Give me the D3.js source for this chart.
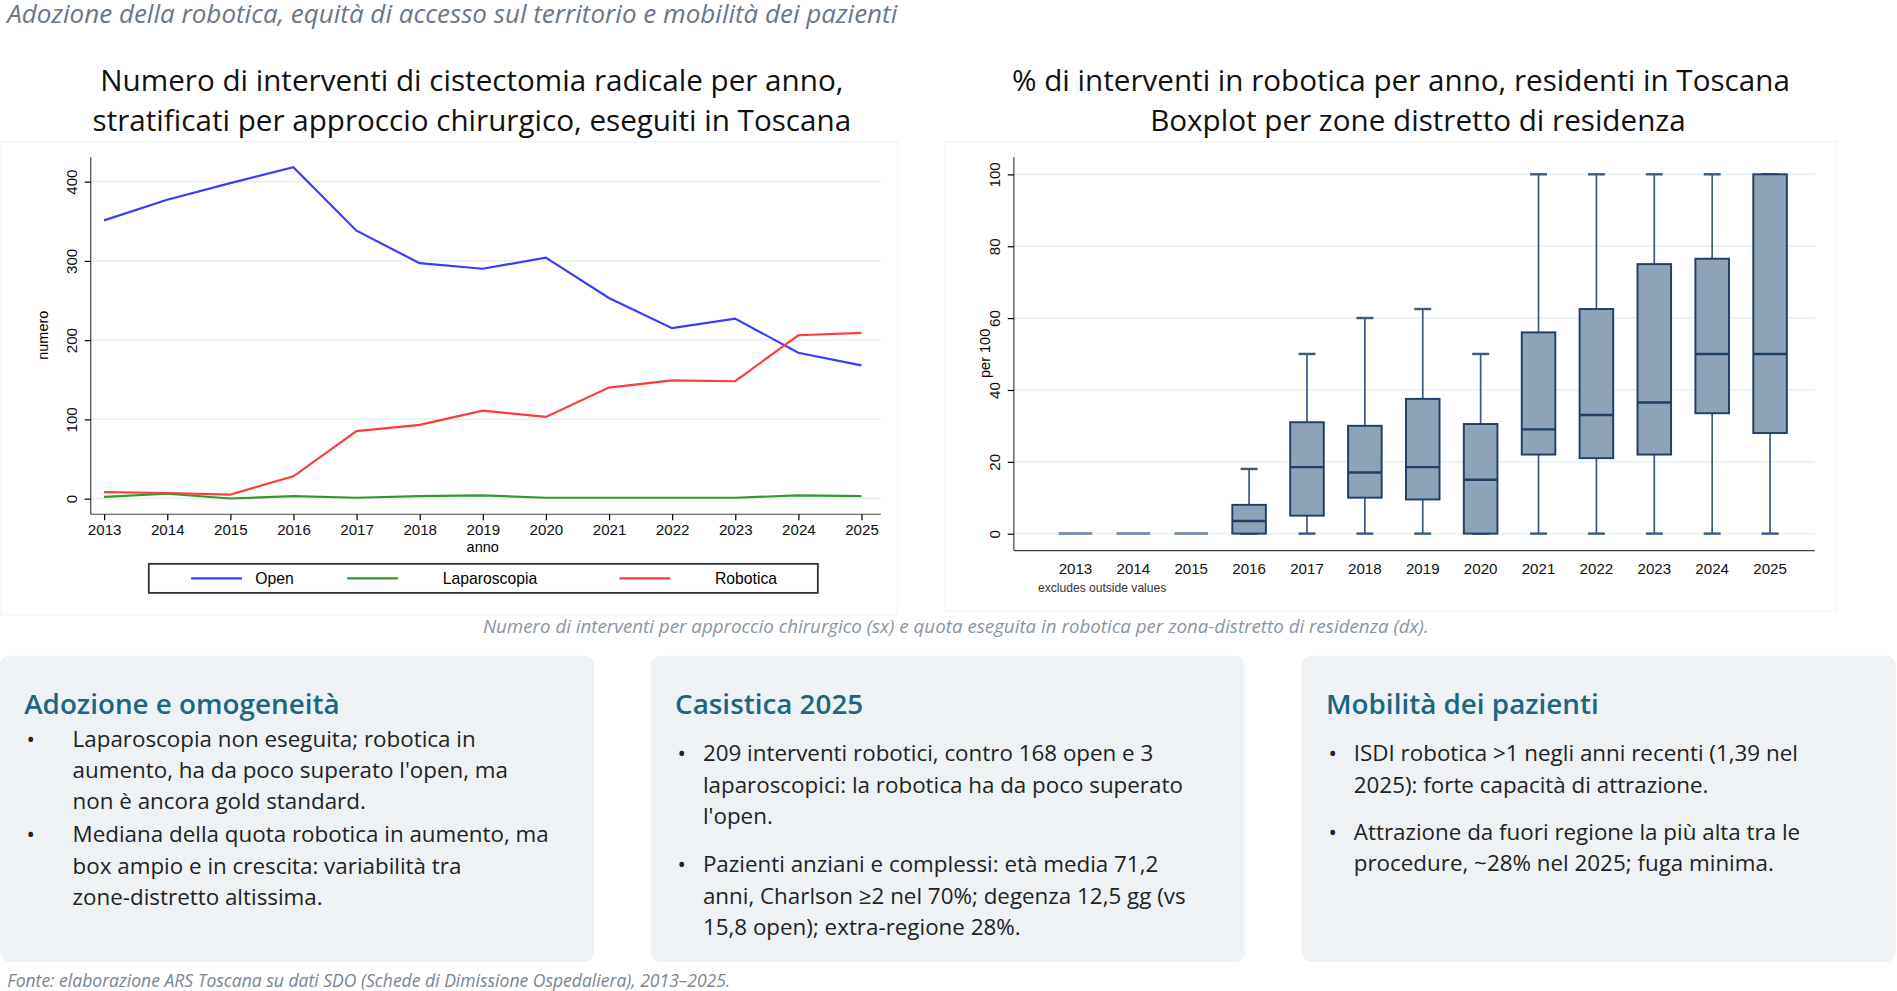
<!DOCTYPE html>
<html><head><meta charset="utf-8">
<script src="https://cdn.jsdelivr.net/npm/d3@7"></script>
<style>body{margin:0;background:#fff;overflow:hidden}</style></head>
<body><svg id="c" width="1897" height="991" viewBox="0 0 1568 819"></svg>
<script>
const years=[2013,2014,2015,2016,2017,2018,2019,2020,2021,2022,2023,2024,2025];
const openV=[351,377,398,418,338,297,290,304,253,215,227,184,168];
const lapV=[2,6,0,3,1,3,4,1,1,1,1,4,3];
const robV=[8,7,5,28,85,93,111,103,140,149,148,206,209];
const bxMin=[0,0,0,0,0,0,0,0,0,0,0,0,0];
const bxQ1=[0,0,0,0,5,10,9.5,0,22,21,22,33.5,28];
const bxMed=[0,0,0,3.5,18.5,17,18.5,15,29,33,36.5,50,50];
const bxQ3=[0,0,0,8,31,30,37.5,30.5,56,62.5,75,76.5,100];
const bxMax=[0,0,0,18,50,60,62.5,50,100,100,100,100,100];
const leftTicks=[0,100,200,300,400];
const rightTicks=[0,20,40,60,80,100];
const svg=d3.select("#c");
const F="'Liberation Sans',Arial,sans-serif", T="'Open Sans','Noto Sans',sans-serif";
svg.append("text").attr("x",6).attr("y",19).attr("font-family",T).attr("font-style","italic").attr("font-size",21.5).attr("fill","#6b7785").text("Adozione della robotica, equità di accesso sul territorio e mobilità dei pazienti");
[["Numero di interventi di cistectomia radicale per anno,",390,75],["stratificati per approccio chirurgico, eseguiti in Toscana",390,108],["% di interventi in robotica per anno, residenti in Toscana",1158,75],["Boxplot per zone distretto di residenza",1172,108]].forEach(t=>svg.append("text").attr("x",t[1]).attr("y",t[2]).attr("text-anchor","middle").attr("font-family",T).attr("font-size",24.5).attr("fill","#111").text(t[0]));
svg.append("rect").attr("x",1).attr("y",117).attr("width",741).attr("height",391).attr("fill","#fff").attr("stroke","#f2f4f6");
svg.append("rect").attr("x",781).attr("y",117).attr("width",737).attr("height",388).attr("fill","#fff").attr("stroke","#f2f4f6");
// left chart
const xL=d3.scalePoint().domain(years).range([86,712]);
const yL=d3.scaleLinear().domain([0,400]).range([412,150]);
const gL=svg.append("g");
leftTicks.forEach(v=>gL.append("line").attr("x1",76).attr("x2",728).attr("y1",yL(v)).attr("y2",yL(v)).attr("stroke","#eaf2f3").attr("stroke-width",1.5));
gL.append("g").attr("transform","translate(0,425)").call(d3.axisBottom(xL).tickSize(5).tickSizeOuter(0)).call(g=>{g.select(".domain").attr("stroke","#444").attr("d","M75,0H728");g.selectAll("text").attr("font-family",F).attr("font-size",12.5).attr("fill","#111");});
gL.append("g").attr("transform","translate(75,0)").call(d3.axisLeft(yL).tickValues(leftTicks).tickSize(5).tickSizeOuter(0)).call(g=>{g.select(".domain").attr("d","M0,130V425").attr("stroke","#444");g.selectAll("text").attr("font-family",F).attr("font-size",12.5).attr("fill","#111").attr("transform","rotate(-90,-9,0)").attr("text-anchor","middle").attr("x",-9).attr("dy","-0.2em");});
gL.append("text").attr("transform","translate(40,277) rotate(-90)").attr("text-anchor","middle").attr("font-family",F).attr("font-size",12).text("numero");
gL.append("text").attr("x",399).attr("y",456).attr("text-anchor","middle").attr("font-family",F).attr("font-size",12).text("anno");
const line=d3.line().x((d,i)=>xL(years[i])).y(d=>yL(d));
[[openV,"#3b3bff"],[lapV,"#2e9a2e"],[robV,"#ff3b3b"]].forEach(s=>gL.append("path").attr("d",line(s[0])).attr("fill","none").attr("stroke",s[1]).attr("stroke-width",1.8));
gL.append("rect").attr("x",123).attr("y",466).attr("width",553).attr("height",24).attr("fill","#fff").attr("stroke","#333").attr("stroke-width",1.5);
[["Open","#3b3bff",158,211],["Laparoscopia","#2e9a2e",287,366],["Robotica","#ff3b3b",512,591]].forEach(l=>{gL.append("line").attr("x1",l[2]).attr("x2",l[2]+42).attr("y1",478).attr("y2",478).attr("stroke",l[1]).attr("stroke-width",1.8);gL.append("text").attr("x",l[3]).attr("y",483).attr("font-family",F).attr("font-size",13).text(l[0]);});
// right boxplot
const xR=d3.scaleBand().domain(years).range([865,1487]).paddingInner(0.42).paddingOuter(0.21);
const yR=d3.scaleLinear().domain([0,100]).range([441,144]);
const gR=svg.append("g");
rightTicks.forEach(v=>gR.append("line").attr("x1",838).attr("x2",1500).attr("y1",yR(v)).attr("y2",yR(v)).attr("stroke","#eaf2f3").attr("stroke-width",1.5));
gR.append("g").attr("transform","translate(0,455)").call(d3.axisBottom(xR).tickSize(0)).call(g=>{g.select(".domain").attr("stroke","#444").attr("d","M838,0H1500");g.selectAll("text").attr("font-family",F).attr("font-size",12.5).attr("fill","#111").attr("dy","1.3em");});
gR.append("g").attr("transform","translate(838,0)").call(d3.axisLeft(yR).tickValues(rightTicks).tickSize(5).tickSizeOuter(0)).call(g=>{g.select(".domain").attr("d","M0,130V455").attr("stroke","#444");g.selectAll("text").attr("font-family",F).attr("font-size",12.5).attr("fill","#111").attr("transform","rotate(-90,-9,0)").attr("text-anchor","middle").attr("x",-9).attr("dy","-0.2em");});
gR.append("text").attr("transform","translate(818,292) rotate(-90)").attr("text-anchor","middle").attr("font-family",F).attr("font-size",12).text("per 100");
gR.append("text").attr("x",858).attr("y",489).attr("font-family",F).attr("font-size",10).attr("fill","#333").text("excludes outside values");
const bw=xR.bandwidth(), sc="#1f3f66";
years.forEach((y,i)=>{const cx=xR(y)+bw/2,g=gR.append("g");
 if(bxMax[i]===0){g.append("line").attr("x1",xR(y)).attr("x2",xR(y)+bw).attr("y1",yR(0)).attr("y2",yR(0)).attr("stroke","#7f93ab").attr("stroke-width",2.5);return;}
 g.append("line").attr("x1",cx).attr("x2",cx).attr("y1",yR(bxQ3[i])).attr("y2",yR(bxMax[i])).attr("stroke","#3a5a80").attr("stroke-width",1.4);
 g.append("line").attr("x1",cx).attr("x2",cx).attr("y1",yR(bxQ1[i])).attr("y2",yR(bxMin[i])).attr("stroke","#3a5a80").attr("stroke-width",1.4);
 [bxMax[i],bxMin[i]].forEach(v=>g.append("line").attr("x1",cx-7).attr("x2",cx+7).attr("y1",yR(v)).attr("y2",yR(v)).attr("stroke","#3a5a80").attr("stroke-width",2));
 g.append("rect").attr("x",xR(y)).attr("y",yR(bxQ3[i])).attr("width",bw).attr("height",yR(bxQ1[i])-yR(bxQ3[i])).attr("fill","#8ea3b8").attr("stroke",sc).attr("stroke-width",1.6);
 g.append("line").attr("x1",xR(y)).attr("x2",xR(y)+bw).attr("y1",yR(bxMed[i])).attr("y2",yR(bxMed[i])).attr("stroke",sc).attr("stroke-width",2);
});
svg.append("text").attr("x",790).attr("y",523).attr("text-anchor","middle").attr("font-family",T).attr("font-style","italic").attr("font-size",15.5).attr("fill","#8a95a0").text("Numero di interventi per approccio chirurgico (sx) e quota eseguita in robotica per zona-distretto di residenza (dx).");
const cards=[
 {x:0,title:"Adozione e omogeneità",bx:22,tx:60,lines:[[617,"Laparoscopia non eseguita; robotica in",1],[643,"aumento, ha da poco superato l'open, ma",0],[669,"non è ancora gold standard.",0],[696,"Mediana della quota robotica in aumento, ma",1],[722,"box ampio e in crescita: variabilità tra",0],[748,"zone-distretto altissima.",0]]},
 {x:538,title:"Casistica 2025",bx:22,tx:43,lines:[[629,"209 interventi robotici, contro 168 open e 3",1],[655,"laparoscopici: la robotica ha da poco superato",0],[681,"l'open.",0],[721,"Pazienti anziani e complessi: età media 71,2",1],[747,"anni, Charlson ≥2 nel 70%; degenza 12,5 gg (vs",0],[773,"15,8 open); extra-regione 28%.",0]]},
 {x:1076,title:"Mobilità dei pazienti",bx:22,tx:43,lines:[[629,"ISDI robotica >1 negli anni recenti (1,39 nel",1],[655,"2025): forte capacità di attrazione.",0],[694,"Attrazione da fuori regione la più alta tra le",1],[720,"procedure, ~28% nel 2025; fuga minima.",0]]}];
cards.forEach(c=>{const g=svg.append("g").attr("transform",`translate(${c.x},0)`);
 g.append("rect").attr("x",0).attr("y",542).attr("width",491).attr("height",253).attr("rx",8).attr("fill","#eef2f5");
 g.append("text").attr("x",20).attr("y",590).attr("font-family",T).attr("font-weight",600).attr("font-size",23).attr("fill","#1c6680").text(c.title);
 c.lines.forEach(l=>{if(l[2])g.append("text").attr("x",c.bx).attr("y",l[0]).attr("font-family",T).attr("font-size",18.5).attr("fill","#222").text("•");
  g.append("text").attr("x",c.tx).attr("y",l[0]).attr("font-family",T).attr("font-size",18.5).attr("fill","#222").text(l[1]);});
});
svg.append("text").attr("x",6).attr("y",816).attr("font-family",T).attr("font-style","italic").attr("font-size",14.5).attr("fill","#7a8590").text("Fonte: elaborazione ARS Toscana su dati SDO (Schede di Dimissione Ospedaliera), 2013–2025.");
</script></body></html>
